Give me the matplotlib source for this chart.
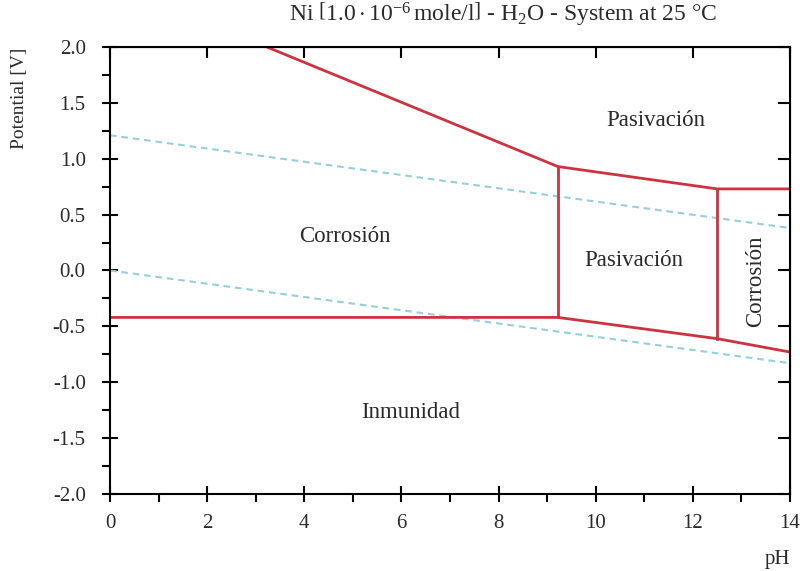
import matplotlib
matplotlib.use('Agg')
import matplotlib.pyplot as plt
from matplotlib.ticker import MultipleLocator, FormatStrFormatter

# Ni - H2O stability boundaries (pH, potential in V)
ph_upper = [3.23, 9.22, 12.5, 14.0]
e_upper = [2.0, 0.93, 0.73, 0.73]
ph_lower = [0.0, 9.22, 12.5, 14.0]
e_lower = [-0.42, -0.42, -0.61, -0.73]
ph_vertical = [9.22, 12.5]
e_vertical_top = [0.93, 0.73]
e_vertical_bottom = [-0.42, -0.61]

# water stability lines
ph_water = [0.0, 14.0]
e_oxygen = [1.21, 0.38]
e_hydrogen = [0.0, -0.83]

region_names = ['Pasivación', 'Corrosión', 'Pasivación', 'Corrosión', 'Inmunidad']
region_ph = [11.23, 4.84, 10.78, 13.3, 6.2]
region_e = [1.34, 0.30, 0.09, -0.10, -1.27]
region_rot = [0, 0, 0, 90, 0]

RED = '#cc3340'
BLUE = '#96cfdc'
INK = '#2a2a2a'

plt.rcParams['font.family'] = ['Liberation Serif', 'DejaVu Serif']
plt.rcParams['mathtext.fontset'] = 'custom'
plt.rcParams['mathtext.rm'] = 'Liberation Serif'
plt.rcParams['mathtext.it'] = 'Liberation Serif:italic'
plt.rcParams['axes.unicode_minus'] = False

fig = plt.figure(figsize=(8.07, 5.71), dpi=100)
ax = fig.add_axes([0.1363, 0.1349, 0.979 - 0.1363, 0.9177 - 0.1349])

for a, b in [(ph_water, e_oxygen), (ph_water, e_hydrogen)]:
    ax.plot(a, b, color=BLUE, lw=1.5, dashes=(3.2, 2.3))

ax.plot(ph_upper, e_upper, color=RED, lw=2.0, solid_joinstyle='miter')
ax.plot(ph_lower, e_lower, color=RED, lw=2.0, solid_joinstyle='miter')
for p, top, bot in zip(ph_vertical, e_vertical_top, e_vertical_bottom):
    ax.plot([p, p], [top, bot], color=RED, lw=2.0)

for name, p, e, r in zip(region_names, region_ph, region_e, region_rot):
    ax.text(p, e, name, ha='center', va='center', rotation=r, fontsize=16.5, color=INK)

ax.set_xlim(0, 14)
ax.set_ylim(-2, 2)
ax.xaxis.set_major_locator(MultipleLocator(2))
ax.xaxis.set_minor_locator(MultipleLocator(1))
ax.yaxis.set_major_locator(MultipleLocator(0.5))
ax.yaxis.set_minor_locator(MultipleLocator(0.25))
ax.yaxis.set_major_formatter(FormatStrFormatter('%.1f'))

for s in ax.spines.values():
    s.set_linewidth(1.5)
ax.tick_params(which='major', direction='inout', length=11, width=1.5,
               labelsize=15, colors='black', labelcolor=INK)
ax.tick_params(which='minor', direction='out', length=6, width=1.5)
ax.tick_params(axis='y', which='major', pad=12)
ax.tick_params(axis='x', which='major', pad=9)

top = ax.secondary_xaxis('top')
top.xaxis.set_major_locator(MultipleLocator(2))
top.tick_params(direction='in', length=8, width=1.5, labeltop=False)
right = ax.secondary_yaxis('right')
right.yaxis.set_major_locator(MultipleLocator(0.5))
right.tick_params(direction='in', length=8.5, width=1.5, labelright=False)

ax.set_ylabel('Potential [V]', fontsize=14, color=INK)
ax.yaxis.set_label_coords(-0.12, 0.885)
ax.set_xlabel('pH', fontsize=15, color=INK, ha='right')
ax.xaxis.set_label_coords(1.0, -0.125)

ax.text(0.578, 1.072, r'Ni $\left[\mathrm{1.0\cdot10^{-6}\,mole/l}\right]$ - H$_2$O - System at 25 °C',
        transform=ax.transAxes, ha='center', va='center', fontsize=17, color=INK)

fig.savefig('out.png', dpi=100)
